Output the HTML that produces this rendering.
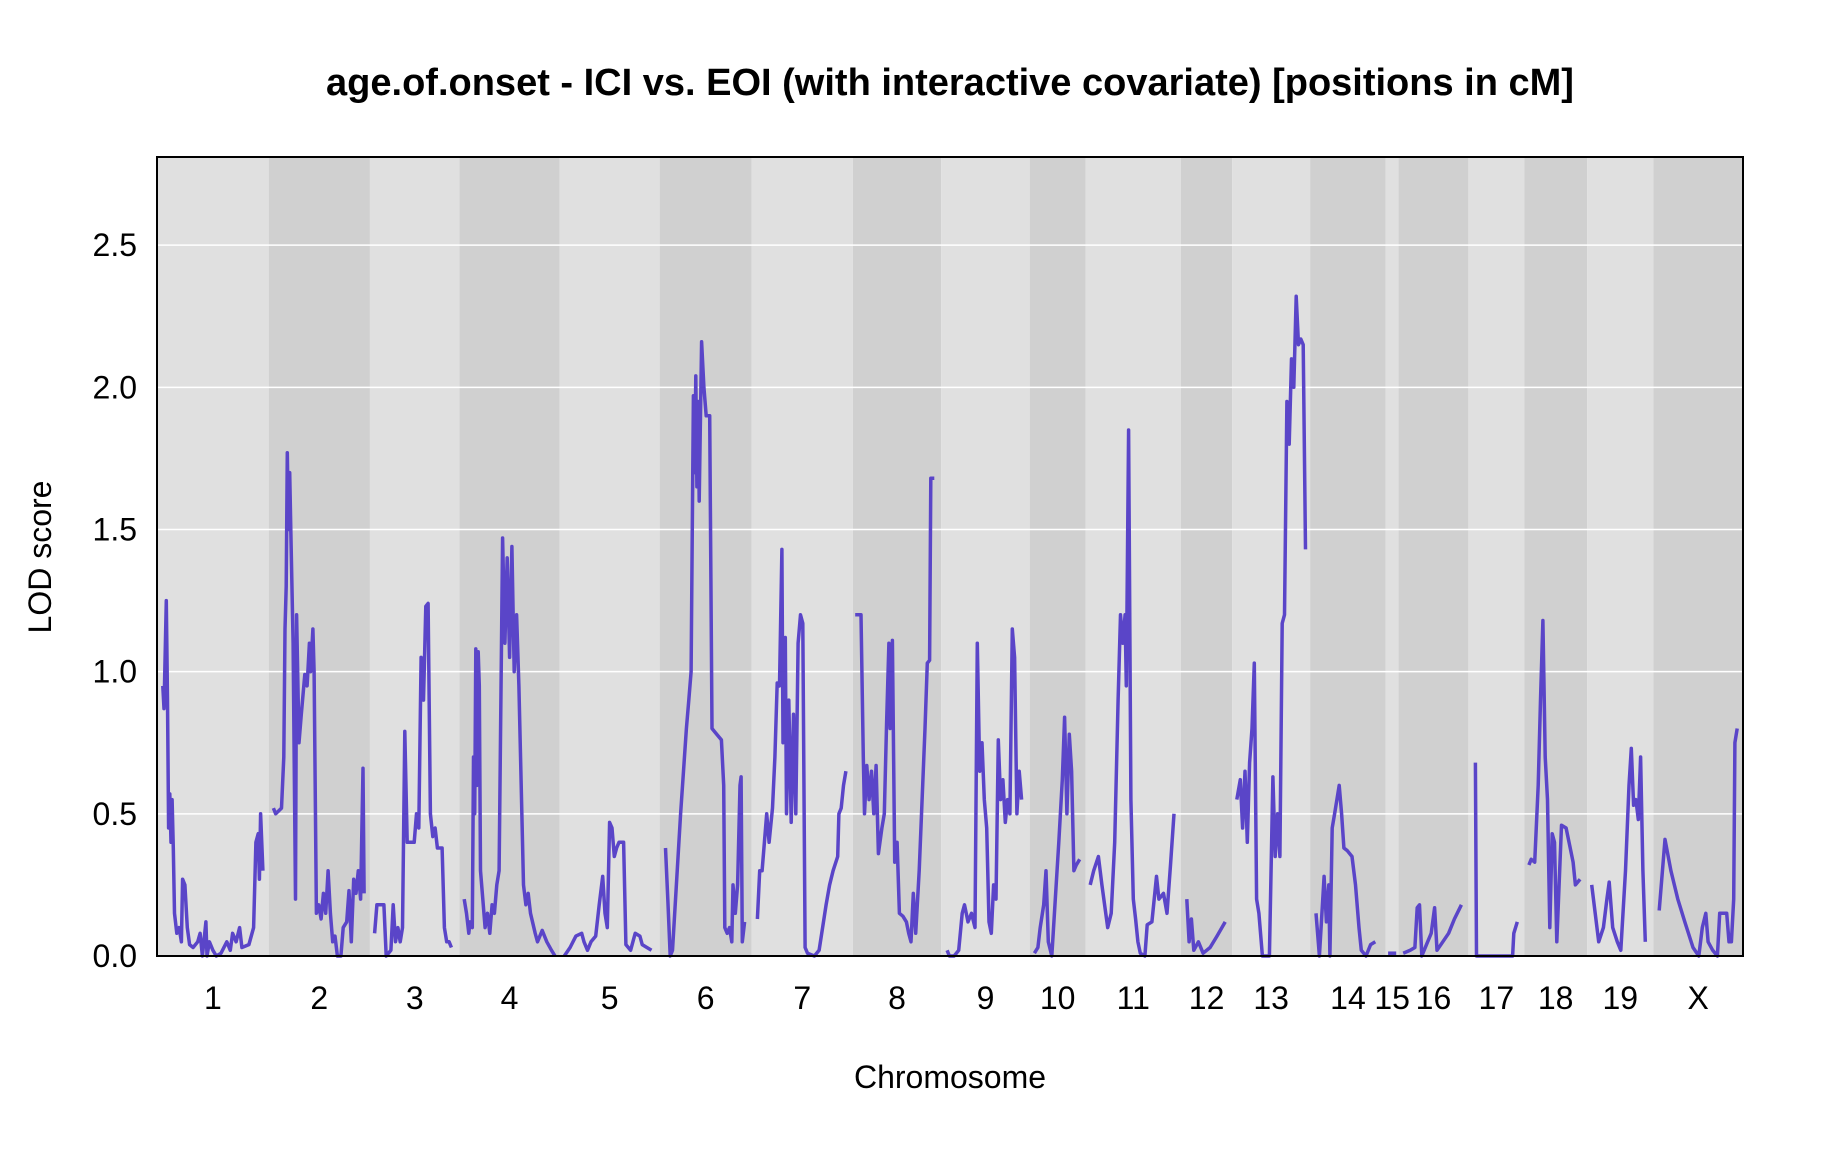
<!DOCTYPE html>
<html><head><meta charset="utf-8"><style>body{margin:0;background:#fff}svg{display:block}text{font-family:"Liberation Sans",sans-serif}</style></head>
<body>
<svg id="chart" width="1824" height="1152" viewBox="0 0 1824 1152" xmlns="http://www.w3.org/2000/svg">
<text x="950" y="95" text-anchor="middle" font-size="38" font-weight="bold">age.of.onset - ICI vs. EOI (with interactive covariate) [positions in cM]</text>
<g id="bands"></g>
<g id="grid"></g>
<g id="lines"></g>
<rect x="157" y="157" width="1586" height="799" fill="none" stroke="#000" stroke-width="2"/>
<g id="yticks"></g>
<g id="xticks"></g>
<text x="950" y="1088" text-anchor="middle" font-size="32">Chromosome</text>
<text x="51" y="557" text-anchor="middle" font-size="32" transform="rotate(-90 51 557)">LOD score</text>
</svg>
<script>
const chrNames=["1","2","3","4","5","6","7","8","9","10","11","12","13","14","15","16","17","18","19","X"];
const chrLengths=[96,87,77,86,86,79,87,76,76,48,82,44,67,65,11,60,48,54,57,77];
const yTicks=[0,0.5,1,1.5,2,2.5];
const yTickLabels=["0.0","0.5","1.0","1.5","2.0","2.5"];
const positions=[
[5,6,8,9,10,11,12,13,14,15,17,19,21,22,24,26,28,31,35,37,39,42,43,45,48,51,55,60,63,65,68,71,73,79,83,85,87,88,89,91],
[4,6,11,13,14,15,16,17,18,19,21,23,24,26,28,31,33,35,36,38,39,41,43,45,47,49,51,53,55,57,59,62,64,67,69,71,73,75,77,79,81,82],
[4,6,12,14,18,20,22,24,26,28,30,32,34,38,40,42,44,46,48,50,52,54,56,58,62,64,66,68,70],
[4,6,8,9,11,12,13,14,15,16,17,18,20,22,24,26,28,30,32,34,37,39,41,43,45,47,49,51,55,57,59,61,65,67,71,75,79,82],
[4,9,14,19,21,24,27,31,34,37,39,41,43,45,47,49,51,55,57,61,65,69,71,75,79],
[5,7,9,11,18,23,25,27,29,30,31,32,33,34,36,38,40,43,45,49,53,55,56,58,60,62,63,65,67,69,70,71,73],
[5,7,9,11,13,15,18,20,22,24,26,27,29,30,32,34,36,38,40,42,44,46,48,54,58,61,64,67,70,74,75,77,79,81],
[2,7,9,10,12,14,16,18,20,22,25,27,29,31,32,34,36,38,40,43,46,48,50,52,54,57,62,64,66,67,70],
[5,7,11,15,18,20,23,26,29,31,33,35,37,39,41,43,45,47,49,51,53,55,57,59,61,63,65,67,69],
[4,7,9,12,14,16,19,22,25,28,30,32,34,36,38,40,43],
[4,7,11,14,19,22,25,28,30,32,34,35,37,39,41,43,45,47,51,53,57,61,63,67,70,73,76],
[5,7,9,11,15,19,25,31,38],
[4,7,9,11,13,15,17,19,21,23,26,32,35,37,39,41,43,45,47,49,51,53,55,57,59,61,63],
[5,8,12,14,16,17,19,21,23,25,27,29,32,36,39,42,44,48,52,56],
[2,9],
[4,10,14,16,18,20,24,28,31,33,38,43,48,54],
[6,7,28,38,39,42],
[4,6,9,12,14,16,18,20,22,24,26,28,32,36,40,42,44,48],
[4,7,10,14,17,19,22,26,29,33,36,38,40,42,44,46,48,50],
[5,10,15,21,27,34,39,42,45,47,51,55,57,63,65,67,69,70,72]
];
const lods=[
[.95,.87,1.25,.9,.45,.57,.4,.55,.38,.15,.08,.1,.05,.27,.25,.1,.04,.03,.05,.08,0,.12,0,.05,.02,0,.01,.05,.02,.08,.05,.1,.03,.04,.1,.4,.43,.27,.5,.3],
[.52,.5,.52,.7,1.15,1.3,1.77,1.5,1.7,1.5,1.1,.2,1.2,.75,.85,.99,.95,1.1,1.0,1.15,1.0,.15,.18,.13,.22,.15,.3,.15,.05,.07,0,0,.1,.12,.23,.05,.27,.22,.3,.2,.66,.22],
[.08,.18,.18,0,.02,.18,.05,.1,.05,.1,.79,.4,.4,.4,.5,.45,1.05,.9,1.23,1.24,.5,.42,.45,.38,.38,.1,.05,.05,.03],
[.2,.15,.08,.12,.1,.7,.5,1.08,.6,1.07,.95,.3,.2,.1,.15,.08,.18,.15,.25,.3,1.47,1.1,1.4,1.05,1.44,1.0,1.2,.95,.25,.18,.22,.15,.08,.05,.09,.05,.02,0],
[0,.03,.07,.08,.05,.02,.05,.07,.18,.28,.15,.1,.47,.45,.35,.38,.4,.4,.04,.02,.08,.07,.04,.03,.02],
[.38,.2,0,.02,.5,.8,.9,1.0,1.97,1.7,2.04,1.65,1.95,1.6,2.16,2.0,1.9,1.9,.8,.78,.76,.6,.1,.08,.1,.05,.25,.15,.25,.6,.63,.05,.12],
[.13,.3,.3,.4,.5,.4,.52,.7,.96,.95,1.43,.75,1.12,.5,.9,.47,.85,.5,1.1,1.2,1.17,.03,.01,0,.02,.1,.18,.25,.3,.35,.5,.52,.6,.65],
[1.2,1.2,.7,.5,.67,.55,.65,.5,.67,.36,.45,.5,.82,1.1,.8,1.11,.33,.4,.15,.14,.12,.08,.05,.22,.08,.3,.8,1.03,1.04,1.68,1.68],
[.02,0,0,.02,.15,.18,.12,.15,.1,1.1,.65,.75,.55,.45,.12,.08,.25,.2,.76,.55,.62,.47,.55,.5,1.15,1.05,.5,.65,.55],
[.01,.03,.1,.18,.3,.05,0,.2,.4,.62,.84,.5,.78,.65,.3,.32,.34],
[.25,.3,.35,.25,.1,.15,.4,.9,1.2,1.1,1.2,.95,1.85,.55,.2,.13,.05,.01,0,.11,.12,.28,.2,.22,.15,.32,.5],
[.2,.05,.13,.02,.05,.01,.03,.07,.12],
[.55,.62,.45,.65,.4,.68,.8,1.03,.2,.15,0,0,.63,.35,.5,.35,1.17,1.2,1.95,1.8,2.1,2.0,2.32,2.15,2.17,2.15,1.43],
[.15,0,.28,.12,.25,0,.45,.5,.55,.6,.5,.38,.37,.35,.25,.1,.02,0,.04,.05],
[.01,.01],
[.01,.02,.03,.17,.18,0,.04,.08,.17,.02,.05,.08,.13,.18],
[.68,0,0,0,.08,.12],
[.32,.34,.33,.6,.9,1.18,.7,.55,.1,.43,.4,.05,.46,.45,.37,.33,.25,.27],
[.25,.15,.05,.1,.2,.26,.1,.05,.02,.3,.6,.73,.53,.55,.48,.7,.3,.05],
[.16,.41,.3,.2,.12,.03,0,.1,.15,.05,.02,0,.15,.15,.05,.05,.2,.75,.8]
];
const NS="http://www.w3.org/2000/svg";
const L=157,R=1743,T=157,B=956,YMAX=2.81;
const total=chrLengths.reduce((a,b)=>a+b,0);
const starts=[];let c=0;chrLengths.forEach(l=>{starts.push(c);c+=l;});
const xs=v=>L+v*(R-L)/total;
const ys=v=>B-v*(B-T)/YMAX;
function mk(t,a,p){const e=document.createElementNS(NS,t);for(const k in a)e.setAttribute(k,a[k]);p.appendChild(e);return e;}
const bands=document.getElementById('bands'),grid=document.getElementById('grid'),lines=document.getElementById('lines'),yt=document.getElementById('yticks'),xt=document.getElementById('xticks');
chrNames.forEach((n,i)=>{
 const r=mk('rect',{x:xs(starts[i]),y:T,width:xs(starts[i]+chrLengths[i])-xs(starts[i]),height:B-T,fill:i%2?'#d0d0d0':'#e0e0e0'},bands);
 
 
 const t=mk('text',{x:xs(starts[i]+chrLengths[i]/2),y:1009,'text-anchor':'middle','font-size':32},xt);
 t.textContent=n;
 
 
});
yTicks.forEach((v,i)=>{
 if(v>0){const g=mk('line',{x1:L,x2:R,y1:ys(v),y2:ys(v),stroke:'#fff','stroke-width':1.5},grid);
 
 }
 const t=mk('text',{x:137,y:ys(v)+11,'text-anchor':'end','font-size':32},yt);
 t.textContent=yTickLabels[i];
 
 
});
chrNames.forEach((n,i)=>{
 const p=positions[i],v=lods[i],m=Math.min(p.length,v.length);
 let d='';for(let j=0;j<m;j++)d+=(j?'L':'M')+xs(starts[i]+p[j]).toFixed(1)+','+ys(v[j]).toFixed(1);
 const pa=mk('path',{d:d,fill:'none',stroke:'#5a45c8','stroke-width':3.5,'stroke-linejoin':'round'},lines);
 
 
});
</script>
</body></html>
